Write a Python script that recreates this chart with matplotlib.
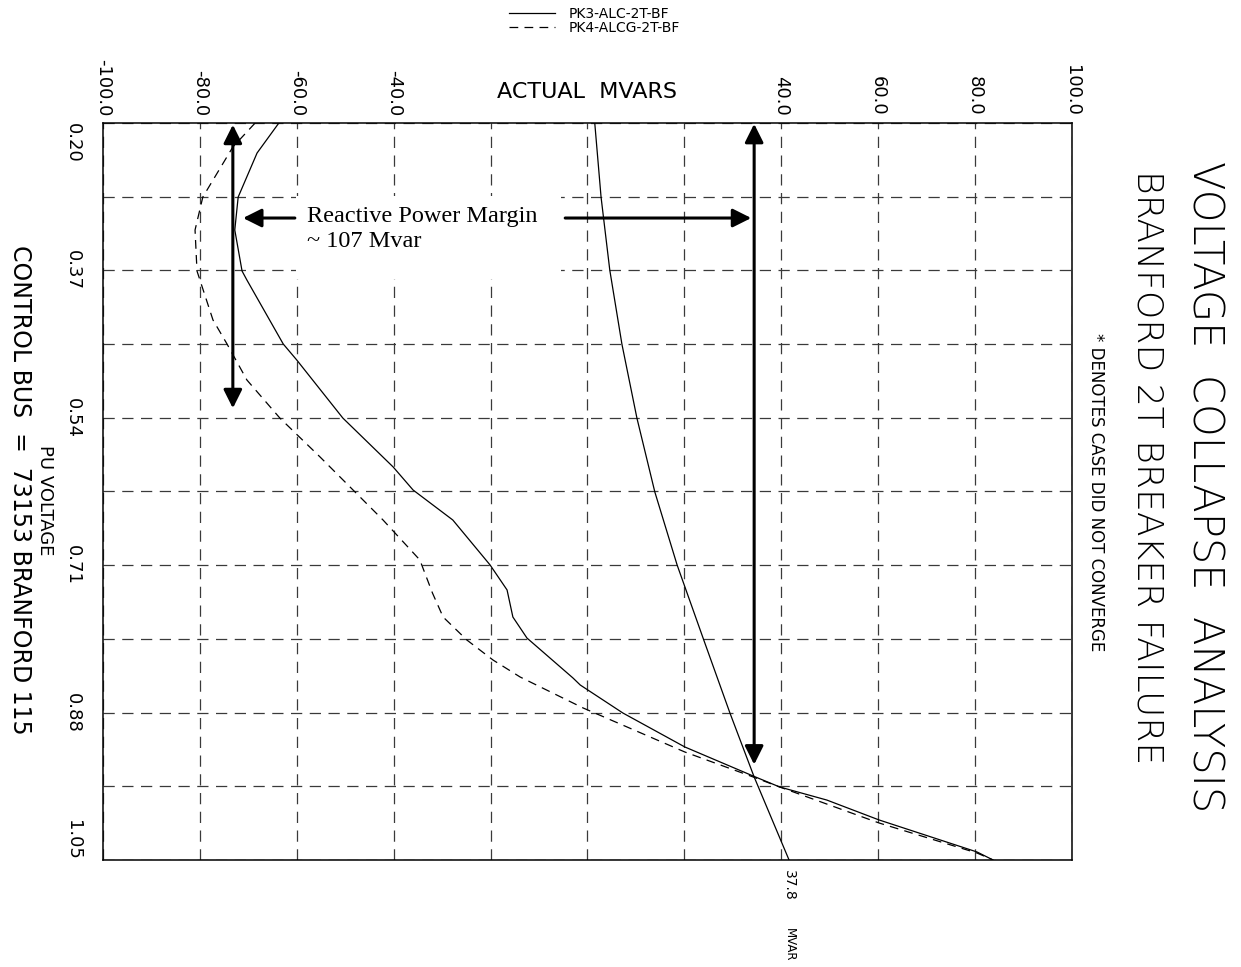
import numpy as np
import matplotlib.pyplot as plt
from matplotlib.patches import Rectangle

# PV / QV style curves (PU voltage vs actual Mvar)
pu_a = [0.200, 0.2346, 0.2854, 0.3234, 0.3707, 0.3811, 0.4549, 0.4734, 0.5403,
        0.5968, 0.6233, 0.6579, 0.7098, 0.7386, 0.7698, 0.7940, 0.8401, 0.8482,
        0.8805, 0.9197, 0.9532, 0.9659, 0.9809, 1.0039, 1.0408, 1.050]
mvar_a = [-63.7, -68.2, -72.1, -72.8, -71.3, -70.3, -62.8, -60.0, -50.5,
          -40.1, -36.0, -27.8, -20.1, -16.6, -15.4, -12.5, -3.0, -1.5,
          7.3, 20.1, 34.2, 39.7, 49.4, 60.2, 80.4, 83.7]

pu_b = [0.200, 0.2277, 0.2854, 0.3234, 0.3707, 0.4272, 0.4549, 0.4964, 0.5403,
        0.5852, 0.6579, 0.7040, 0.7421, 0.7698, 0.7963, 0.8194, 0.8390, 0.8747,
        0.9255, 0.9543, 0.9659, 1.0074, 1.0420, 1.050]
mvar_b = [-68.6, -73.2, -79.4, -81.0, -80.6, -77.3, -74.4, -70.3, -63.5,
          -55.2, -42.2, -34.6, -32.0, -29.8, -24.9, -19.5, -13.9, -0.9,
          20.1, 34.2, 39.7, 60.2, 80.4, 83.7]

pu_c = [0.200, 0.2854, 0.3696, 0.4549, 0.5403, 0.6256, 0.7098, 0.7963, 0.8805, 0.9543, 1.050]
mvar_c = [1.5, 2.8, 4.6, 7.1, 10.2, 13.9, 18.5, 24.0, 29.4, 34.4, 41.6]

labels = ["PK3-ALC-2T-BF", "PK4-ALCG-2T-BF"]

x_grid = np.arange(-100, 101, 20)
x_ticks = [-100, -80, -60, -40, 40, 60, 80, 100]
y_ticks = [0.20, 0.37, 0.54, 0.71, 0.88, 1.05]
y_grid = np.arange(0.20, 1.0501, 0.085)

fig = plt.figure(figsize=(12.41, 9.67), dpi=100)
ax = fig.add_axes([0.0830, 0.1107, 0.7808, 0.7621])

la, = ax.plot(mvar_a, pu_a, color="k", lw=0.9)
lb, = ax.plot(mvar_b, pu_b, color="k", lw=0.9, linestyle=(0, (7, 5)))
ax.plot(mvar_c, pu_c, color="k", lw=0.9)

ax.set_xlim(-100, 100)
ax.set_ylim(1.05, 0.20)

# dashed grid lines at every step, labels only at some of them
for v in x_grid:
    ax.axvline(v, color="#3a3a3a", lw=0.9, linestyle=(0, (9, 6)), zorder=0)
for v in y_grid:
    ax.axhline(v, color="#3a3a3a", lw=0.9, linestyle=(0, (9, 6)), zorder=0)

ax.xaxis.set_ticks_position("top")
ax.set_xticks(x_ticks)
ax.set_xticklabels(["%.1f" % v for v in x_ticks], rotation=270, fontsize=13)
ax.set_yticks(y_ticks)
ax.set_yticklabels(["%.2f" % v for v in y_ticks], rotation=270, fontsize=13, va="center")
ax.tick_params(which="both", length=0)
ax.tick_params(axis="x", pad=5)
ax.tick_params(axis="y", pad=15)
ylab = ax.get_yticklabels()
ylab[0].set_va("top")
ylab[-1].set_va("bottom")
for s in ax.spines.values():
    s.set_linewidth(1.1)

ax.text(0.5, 1.042, "ACTUAL  MVARS", transform=ax.transAxes, ha="center", va="center", fontsize=16)

# reactive power margin annotation
x_left = min(mvar_a) - 0.4
x_right = mvar_c[-2]
y_arr = 0.3096
bold = dict(color="k", lw=2.2, shrinkA=0, shrinkB=0, mutation_scale=28)
ax.annotate("", xy=(x_left, 0.202), xytext=(x_left, 0.529),
            arrowprops=dict(arrowstyle="<|-|>", **bold))
ax.annotate("", xy=(x_right, 0.201), xytext=(x_right, 0.940),
            arrowprops=dict(arrowstyle="<|-|>", **bold))
ax.annotate("", xy=(x_left + 2.1, y_arr), xytext=(-60.4, y_arr),
            arrowprops=dict(arrowstyle="-|>", **bold))
ax.annotate("", xy=(x_right - 0.6, y_arr), xytext=(-4.6, y_arr),
            arrowprops=dict(arrowstyle="-|>", **bold))
# white backing behind the label, blanking the grid there
ax.add_patch(Rectangle((-60.2, 0.284), 54.8, 0.096, facecolor="white",
                       edgecolor="none", zorder=0.5))
ax.text(-57.9, 0.296, "Reactive Power Margin\n~ 107 Mvar", family="Liberation Serif",
        fontsize=17.5, va="top", ha="left", linespacing=1.25, zorder=3)

ax.text(mvar_c[-1], -0.034, "37.8", transform=ax.get_xaxis_transform(), rotation=270,
        ha="center", va="center", fontsize=10)
ax.text(mvar_c[-1], -0.115, "MVAR", transform=ax.get_xaxis_transform(), rotation=270,
        ha="center", va="center", fontsize=8.5)

fig.text(0.971, 0.497, "VOLTAGE  COLLAPSE  ANALYSIS", rotation=270, ha="center", va="center",
         fontsize=30, fontweight="light")
fig.text(0.925, 0.5166, "BRANFORD 2T BREAKER FAILURE", rotation=270, ha="center", va="center",
         fontsize=26, fontweight="light")
fig.text(0.883, 0.491, "* DENOTES CASE DID NOT CONVERGE", rotation=270, ha="center", va="center",
         fontsize=12)
fig.text(0.0161, 0.4933, "CONTROL BUS  =  73153 BRANFORD 115", rotation=270, ha="center", va="center",
         fontsize=17)
fig.text(0.036, 0.483, "PU VOLTAGE", rotation=270, ha="center", va="center", fontsize=13)

fig.legend([la, lb], labels, loc="upper center", bbox_to_anchor=(0.479, 0.999), frameon=False,
           fontsize=10, handlelength=3.3, labelspacing=0.05, handletextpad=1.0, borderaxespad=0)

fig.savefig("out.png", dpi=100)
